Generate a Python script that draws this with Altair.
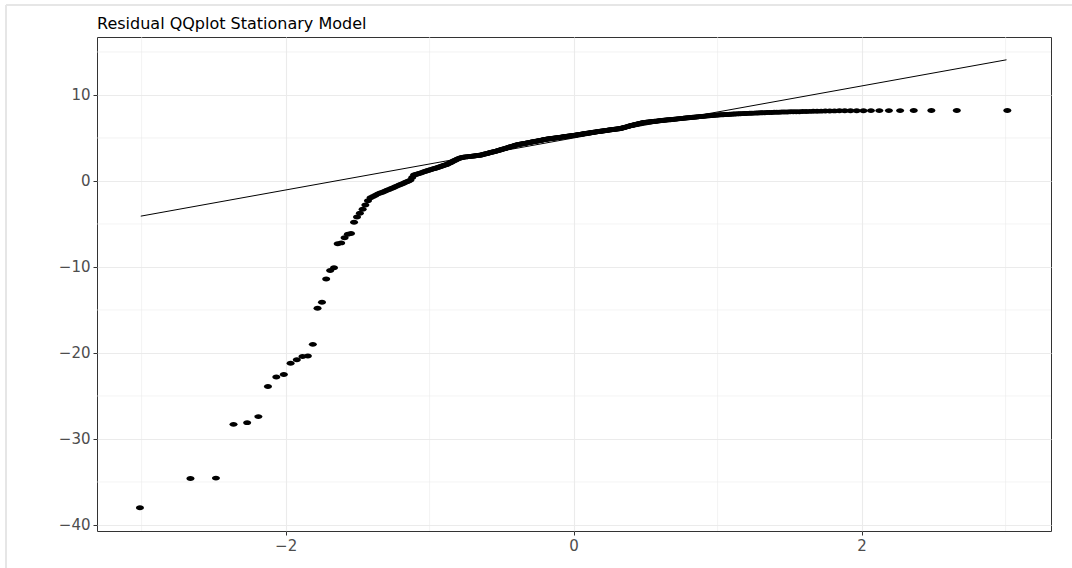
import altair as alt
import pandas as pd

# Sorted sample residuals, one per plotted point
residuals = [
    -38.0, -34.6, -34.55, -28.3, -28.1, -27.4, -23.9, -22.8, -22.5, -21.2,
    -20.8, -20.4, -20.35, -19.0, -14.8, -14.1, -11.4, -10.4, -10.1, -7.3,
    -7.2, -6.6, -6.2, -6.1, -4.8, -4.2, -3.75, -3.3, -2.8, -2.3,
    -1.95, -1.8, -1.65, -1.5, -1.4, -1.30, -1.19, -1.09, -0.99, -0.88,
    -0.78, -0.68, -0.57, -0.47, -0.38, -0.28, -0.19, -0.09, 0.0, 0.1,
    0.4, 0.7, 0.76, 0.82, 0.88, 0.94, 1.0, 1.06, 1.12, 1.18,
    1.24, 1.3, 1.35, 1.41, 1.46, 1.52, 1.57, 1.63, 1.68, 1.74,
    1.79, 1.85, 1.9, 1.98, 2.06, 2.13, 2.21, 2.29, 2.37, 2.44,
    2.52, 2.6, 2.65, 2.69, 2.73, 2.76, 2.78, 2.8, 2.81, 2.83,
    2.85, 2.86, 2.88, 2.9, 2.91, 2.93, 2.95, 2.97, 2.98, 3.0,
    3.03, 3.07, 3.1, 3.13, 3.17, 3.2, 3.23, 3.27, 3.3, 3.33,
    3.37, 3.4, 3.43, 3.47, 3.5, 3.54, 3.57, 3.61, 3.65, 3.68,
    3.72, 3.76, 3.79, 3.83, 3.87, 3.9, 3.94, 3.98, 4.02, 4.05,
    4.09, 4.13, 4.16, 4.2, 4.22, 4.24, 4.27, 4.29, 4.31, 4.33,
    4.35, 4.37, 4.4, 4.42, 4.44, 4.46, 4.48, 4.5, 4.53, 4.55,
    4.57, 4.59, 4.61, 4.63, 4.66, 4.68, 4.7, 4.72, 4.74, 4.76,
    4.79, 4.81, 4.83, 4.85, 4.87, 4.88, 4.9, 4.91, 4.93, 4.94,
    4.96, 4.97, 4.99, 5.0, 5.02, 5.04, 5.05, 5.07, 5.08, 5.1,
    5.11, 5.13, 5.14, 5.16, 5.17, 5.19, 5.2, 5.22, 5.23, 5.25,
    5.26, 5.28, 5.3, 5.32, 5.33, 5.35, 5.37, 5.39, 5.4, 5.42,
    5.44, 5.45, 5.47, 5.49, 5.51, 5.52, 5.54, 5.56, 5.57, 5.59,
    5.61, 5.63, 5.64, 5.66, 5.68, 5.69, 5.71, 5.73, 5.75, 5.76,
    5.78, 5.79, 5.81, 5.82, 5.84, 5.85, 5.87, 5.88, 5.9, 5.92,
    5.93, 5.95, 5.96, 5.98, 5.99, 6.01, 6.02, 6.04, 6.05, 6.07,
    6.08, 6.1, 6.13, 6.16, 6.19, 6.22, 6.25, 6.29, 6.32, 6.35,
    6.38, 6.41, 6.44, 6.47, 6.5, 6.53, 6.56, 6.6, 6.63, 6.66,
    6.69, 6.72, 6.75, 6.78, 6.79, 6.81, 6.82, 6.84, 6.85, 6.87,
    6.88, 6.89, 6.91, 6.92, 6.94, 6.95, 6.96, 6.98, 6.99, 7.01,
    7.02, 7.04, 7.05, 7.06, 7.08, 7.09, 7.11, 7.12, 7.13, 7.15,
    7.16, 7.18, 7.19, 7.21, 7.22, 7.23, 7.25, 7.26, 7.28, 7.29,
    7.31, 7.32, 7.34, 7.35, 7.37, 7.39, 7.4, 7.42, 7.43, 7.45,
    7.46, 7.48, 7.5, 7.51, 7.53, 7.54, 7.56, 7.58, 7.59, 7.61,
    7.62, 7.64, 7.65, 7.67, 7.68, 7.69, 7.7, 7.71, 7.72, 7.73,
    7.74, 7.75, 7.76, 7.78, 7.79, 7.8, 7.81, 7.82, 7.83, 7.84,
    7.85, 7.86, 7.87, 7.88, 7.89, 7.9, 7.91, 7.92, 7.93, 7.94,
    7.95, 7.96, 7.97, 7.98, 7.99, 8.0, 8.01, 8.02, 8.03, 8.04,
    8.04, 8.05, 8.06, 8.07, 8.08, 8.09, 8.1, 8.11, 8.12, 8.13,
    8.14, 8.15, 8.16, 8.16, 8.17, 8.17, 8.17, 8.18, 8.18, 8.18,
    8.18, 8.19, 8.19, 8.19, 8.2,
]

# Reference line end points (theoretical quantile, sample value)
line_x = [-3.006, 3.006]
line_y = [-4.09, 14.09]

x_major = [-2, 0, 2]
x_minor = [-3, -1, 1, 3]
y_major = [-40, -30, -20, -10, 0, 10]
y_minor = [-35, -25, -15, -5, 5, 15]

x_domain = [-3.31, 3.315]
y_domain = [-40.7, 16.74]

title_text = ["Residual QQplot Stationary Model"]

FONT = "DejaVu Sans"
GRID = "#ebebeb"

xscale = alt.Scale(domain=x_domain, nice=False, zero=False)
yscale = alt.Scale(domain=y_domain, nice=False, zero=False)
xaxis = alt.Axis(values=x_major, title=None)
yaxis = alt.Axis(values=y_major, title=None)

ellipse = "M-1,0A1,0.62,0,1,1,1,0A1,0.62,0,1,1,-1,0Z"

minor_x = alt.Chart(pd.DataFrame({"v": x_minor})).mark_rule(
    color=GRID, strokeWidth=0.6
).encode(x=alt.X("v:Q", scale=xscale, axis=xaxis))

minor_y = alt.Chart(pd.DataFrame({"v": y_minor})).mark_rule(
    color=GRID, strokeWidth=0.6
).encode(y=alt.Y("v:Q", scale=yscale, axis=yaxis))

points = (
    alt.Chart(pd.DataFrame({"sample": residuals}))
    .transform_window(rank="row_number()", sort=[alt.SortField("sample")])
    .transform_joinaggregate(n="count()")
    .transform_calculate(theoretical="quantileNormal((datum.rank - 0.5) / datum.n)")
    .mark_point(shape=ellipse, filled=True, size=64, color="black", opacity=1)
    .encode(
        x=alt.X("theoretical:Q", scale=xscale, axis=xaxis),
        y=alt.Y("sample:Q", scale=yscale, axis=yaxis),
    )
)

ref_line = alt.Chart(pd.DataFrame({"x": line_x, "y": line_y})).mark_line(
    color="black", strokeWidth=1
).encode(
    x=alt.X("x:Q", scale=xscale, axis=xaxis),
    y=alt.Y("y:Q", scale=yscale, axis=yaxis),
)

title = alt.Chart(pd.DataFrame({"t": title_text})).mark_text(
    align="left", baseline="alphabetic", font=FONT, fontSize=16, color="black"
).encode(text="t:N", x=alt.value(0), y=alt.value(-8))

# light outer frame lines (top and left) seen in the picture
frame_v = alt.Chart(pd.DataFrame({"k": [0]})).mark_rule(color="#e6e6e6", strokeWidth=2).encode(
    x=alt.value(-91), y=alt.value(-32), y2=alt.value(531)
)
frame_h = alt.Chart(pd.DataFrame({"k": [0]})).mark_rule(color="#e6e6e6", strokeWidth=2).encode(
    x=alt.value(-91), x2=alt.value(975), y=alt.value(-32)
)

chart = (
    alt.layer(minor_x, minor_y, points, ref_line, title, frame_v, frame_h)
    .properties(
        width=954,
        height=494,
        autosize=alt.AutoSizeParams(type="none"),
        padding={"left": 97, "top": 37, "right": 21, "bottom": 37},
        background="white",
    )
    .configure_view(stroke="#333333", strokeWidth=1)
    .configure_axis(
        labelFont=FONT,
        labelFontSize=15,
        labelColor="#4d4d4d",
        tickColor="#333333",
        tickSize=4,
        tickWidth=1,
        labelPadding=3,
        domain=False,
        grid=True,
        gridColor=GRID,
        gridWidth=1.1,
    )
)

chart.save("out.html", embed_options={"renderer": "svg", "actions": False})
